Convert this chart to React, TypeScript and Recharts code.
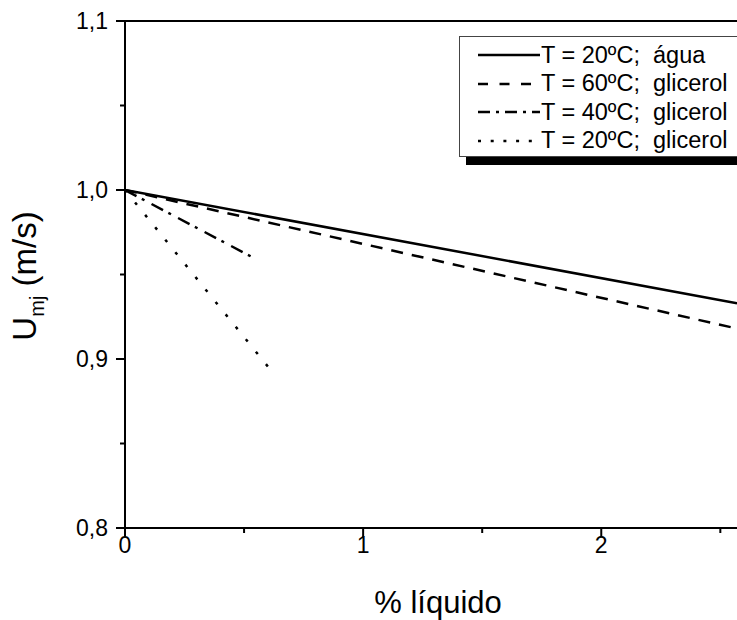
import React from 'react';
import { LineChart, Line, XAxis, YAxis, ReferenceLine, Legend } from 'recharts';

// ---- data ----
const aguaX = [0, 2.57];
const aguaY = [1.0, 0.933];
const gli60X = [0, 2.57];
const gli60Y = [1.0, 0.918];
const gli40X = [0, 0.538];
const gli40Y = [1.0, 0.96];
const gli20X = [0, 0.609];
const gli20Y = [1.0, 0.894];

const seriesNames = [
  'T = 20ºC;  água',
  'T = 60ºC;  glicerol',
  'T = 40ºC;  glicerol',
  'T = 20ºC;  glicerol',
];

const xTicks = [0, 0.5, 1, 1.5, 2, 2.5];
const yTicks = [0.8, 0.85, 0.9, 0.95, 1.0, 1.05, 1.1];

const zip = (xs: number[], ys: number[]) => xs.map((x, i) => ({ x, y: ys[i] }));

const series = [
  { name: seriesNames[0], data: zip(aguaX, aguaY), dash: undefined as string | undefined, legendDash: undefined as string | undefined },
  { name: seriesNames[1], data: zip(gli60X, gli60Y), dash: '12 9', legendDash: '10 11.5' },
  { name: seriesNames[2], data: zip(gli40X, gli40Y), dash: '13 6 3 8', legendDash: '12 6 3 6' },
  { name: seriesNames[3], data: zip(gli20X, gli20Y), dash: '3 13', legendDash: '3 9.7' },
];

const FONT = 'Arial, "Liberation Sans", sans-serif';

const isMajor = (v: number, step: number) => Math.abs(v / step - Math.round(v / step)) < 1e-6;

const YTick = (props: any) => {
  const { x, y, payload } = props;
  const v = payload.value as number;
  const major = isMajor(v, 0.1);
  return (
    <g>
      <line x1={x - (major ? 9 : 5)} x2={x} y1={y} y2={y} stroke="#000" strokeWidth={2} />
      {major && (
        <text x={x - 17} y={y} dy="0.36em" textAnchor="end" fontSize={23} fontFamily={FONT} fill="#000">
          {v.toFixed(1).replace('.', ',')}
        </text>
      )}
    </g>
  );
};

const XTick = (props: any) => {
  const { x, y, payload } = props;
  const v = payload.value as number;
  const major = isMajor(v, 1);
  return (
    <g>
      <line x1={x} x2={x} y1={y} y2={y + (major ? 9 : 5)} stroke="#000" strokeWidth={2} />
      {major && (
        <text x={x} y={y + 8} dy="0.72em" textAnchor="middle" fontSize={23} fontFamily={FONT} fill="#000">
          {String(v)}
        </text>
      )}
    </g>
  );
};

const renderLegend = () => (
  <div
    style={{
      width: 290,
      height: 121,
      boxSizing: 'border-box',
      border: '1px solid #444',
      background: '#fff',
      boxShadow: '7px 8px 0 #000',
      paddingTop: 4,
      fontFamily: FONT,
    }}
  >
    {series.map((s) => (
      <div key={s.name} style={{ height: 28.5, display: 'flex', alignItems: 'center' }}>
        <svg width={62} height={28} style={{ marginLeft: 18, display: 'block', flex: 'none' }}>
          <line x1={0} x2={62} y1={14} y2={14} stroke="#000" strokeWidth={2.5} strokeDasharray={s.legendDash} />
        </svg>
        <span style={{ fontSize: 23.5, marginLeft: 1, whiteSpace: 'pre', color: '#000' }}>{s.name}</span>
      </div>
    ))}
  </div>
);

const YLabel = () => {
  const x0 = 36;
  const y0 = 276;
  return (
    <text
      x={x0}
      y={y0}
      transform={`rotate(-90, ${x0}, ${y0})`}
      textAnchor="middle"
      fontSize={33}
      fontFamily={FONT}
      fill="#000"
    >
      U
      <tspan dy={8} fontSize={20}>mj</tspan>
      <tspan dy={-8}> (m/s)</tspan>
    </text>
  );
};

const XLabel = (props: any) => {
  const vb = props.viewBox || { x: 125, y: 528, width: 612, height: 92 };
  return (
    <text
      x={vb.x + vb.width / 2 + 7}
      y={vb.y + 85}
      textAnchor="middle"
      fontSize={31}
      fontFamily={FONT}
      fill="#000"
    >
      % líquido
    </text>
  );
};

export default function App() {
  return (
    <div
      style={{
        position: 'absolute',
        left: 0,
        top: 0,
        width: 737,
        height: 620,
        overflow: 'hidden',
        background: '#fff',
      }}
    >
      <LineChart width={737} height={620} margin={{ top: 21, right: 0, bottom: 0, left: 0 }}>
        <XAxis
          type="number"
          dataKey="x"
          domain={[0, 2.57]}
          ticks={xTicks}
          interval={0}
          allowDataOverflow
          height={92}
          tickSize={0}
          tickMargin={0}
          tick={<XTick />}
          axisLine={{ stroke: '#000', strokeWidth: 2 }}
          tickLine={false}
          label={<XLabel />}
        />
        <YAxis
          type="number"
          dataKey="y"
          domain={[0.8, 1.1]}
          ticks={yTicks}
          interval={0}
          allowDataOverflow
          width={125}
          tickSize={0}
          tickMargin={0}
          tick={<YTick />}
          axisLine={{ stroke: '#000', strokeWidth: 2 }}
          tickLine={false}
          label={<YLabel />}
        />
        <ReferenceLine y={1.1} stroke="#000" strokeWidth={2} ifOverflow="visible" />
        {series.map((s) => (
          <Line
            key={s.name}
            data={s.data}
            dataKey="y"
            name={s.name}
            type="linear"
            stroke="#000"
            strokeWidth={2.5}
            strokeDasharray={s.dash}
            dot={false}
            activeDot={false}
            isAnimationActive={false}
          />
        ))}
        <Legend
          layout="vertical"
          align="center"
          verticalAlign="middle"
          content={renderLegend}
          wrapperStyle={{ position: 'absolute', left: 459, top: 36, width: 290, height: 121 }}
        />
      </LineChart>
    </div>
  );
}
